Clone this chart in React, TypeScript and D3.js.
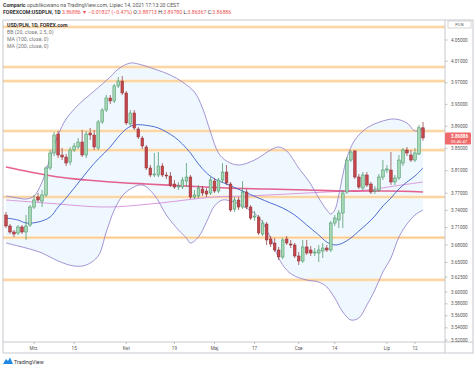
import React, { useEffect, useRef } from 'react';
import * as d3 from 'd3';

// daily candles, USD/PLN, 18 Feb - 14 Jul 2021
const opens = [
  3.7318, 3.7127, 3.7023, 3.7006, 3.711, 3.7023, 3.7144, 3.7458, 3.7634, 3.7563,
  3.7669, 3.8148, 3.8416, 3.8759, 3.838, 3.8344, 3.8254, 3.847, 3.8524, 3.8614,
  3.838, 3.8777, 3.8741, 3.8506, 3.8978, 3.9196, 3.9417, 3.9362, 3.9639, 3.9731,
  3.9509, 3.8941, 3.9142, 3.885, 3.8686, 3.8524, 3.8148, 3.8023, 3.8023, 3.8183,
  3.8023, 3.8005, 3.7863, 3.781, 3.781, 3.7916, 3.7987, 3.7634, 3.7651, 3.7775,
  3.7739, 3.7704, 3.7916, 3.7739, 3.7934, 3.8076, 3.7863, 3.7423, 3.7581, 3.7458,
  3.7722, 3.7458, 3.7283, 3.7283, 3.6988, 3.7161, 3.6902, 3.6833, 3.6713, 3.6593,
  3.6902, 3.6816, 3.6799, 3.661, 3.6524, 3.6765, 3.6713, 3.6661, 3.6661, 3.6696,
  3.6747, 3.6713, 3.7179, 3.7231, 3.7353, 3.7722, 3.829, 3.8452, 3.7987, 3.7792,
  3.8023, 3.7863, 3.7739, 3.7757, 3.7987, 3.8112, 3.8112, 3.7899, 3.797, 3.8236,
  3.847, 3.838, 3.829, 3.8398, 3.88713,
];
const highs = [
  3.7371, 3.7161, 3.7058, 3.7144, 3.7144, 3.7318, 3.7493, 3.7669, 3.7704, 3.7757,
  3.8183, 3.847, 3.8795, 3.8814, 3.8506, 3.8398, 3.8524, 3.8596, 3.8686, 3.8832,
  3.8814, 3.8868, 3.8832, 3.9014, 3.9233, 3.9472, 3.9472, 3.9676, 3.9806, 3.9824,
  3.9546, 3.9196, 3.9196, 3.8886, 3.8723, 3.856, 3.8201, 3.8416, 3.8434, 3.8236,
  3.8076, 3.8076, 3.7934, 3.7899, 3.7987, 3.8236, 3.8023, 3.7757, 3.7845, 3.7828,
  3.7792, 3.7987, 3.797, 3.797, 3.8236, 3.8201, 3.7899, 3.7634, 3.7634, 3.7916,
  3.7775, 3.7493, 3.7388, 3.7318, 3.7231, 3.7196, 3.6954, 3.6919, 3.6765, 3.6919,
  3.6954, 3.6885, 3.6833, 3.6679, 3.6885, 3.6885, 3.6782, 3.6747, 3.6799, 3.6833,
  3.6799, 3.7214, 3.7318, 3.7406, 3.7757, 3.8344, 3.847, 3.847, 3.8041, 3.8076,
  3.8076, 3.7899, 3.7828, 3.8041, 3.829, 3.8201, 3.8434, 3.8023, 3.838, 3.8506,
  3.8524, 3.847, 3.8506, 3.8923, 3.8978,
];
const lows = [
  3.7093, 3.6988, 3.6937, 3.6971, 3.6988, 3.6885, 3.711, 3.7423, 3.7546, 3.7458,
  3.7634, 3.8112, 3.8362, 3.8326, 3.829, 3.8183, 3.8201, 3.8434, 3.8488, 3.8344,
  3.8326, 3.865, 3.847, 3.847, 3.8941, 3.916, 3.9306, 3.9325, 3.9602, 3.9472,
  3.8923, 3.8905, 3.8832, 3.8668, 3.8488, 3.8112, 3.7987, 3.7987, 3.7987, 3.7987,
  3.7952, 3.781, 3.7775, 3.7757, 3.7775, 3.781, 3.7599, 3.7599, 3.7616, 3.7651,
  3.7634, 3.7669, 3.7704, 3.7704, 3.7881, 3.7845, 3.7371, 3.7371, 3.7406, 3.7423,
  3.7423, 3.7231, 3.7214, 3.6971, 3.6954, 3.6799, 3.6765, 3.6679, 3.6541, 3.6558,
  3.6799, 3.6747, 3.6576, 3.6456, 3.649, 3.6627, 3.661, 3.661, 3.6507, 3.6576,
  3.6679, 3.6679, 3.7127, 3.7092, 3.7092, 3.7686, 3.8254, 3.7952, 3.7775, 3.7757,
  3.781, 3.7686, 3.7686, 3.7722, 3.7934, 3.8059, 3.7845, 3.7845, 3.7934, 3.8183,
  3.8362, 3.8254, 3.8254, 3.838, 3.86367,
];
const closes = [
  3.7127, 3.7023, 3.6988, 3.711, 3.7023, 3.7127, 3.7458, 3.7581, 3.7581, 3.7669,
  3.8148, 3.8416, 3.8741, 3.838, 3.8344, 3.8236, 3.847, 3.8542, 3.8614, 3.838,
  3.8759, 3.8741, 3.8524, 3.8978, 3.9196, 3.9417, 3.9362, 3.9639, 3.9731, 3.9509,
  3.8959, 3.9142, 3.8868, 3.8705, 3.8542, 3.8148, 3.8023, 3.8041, 3.8183, 3.8023,
  3.8005, 3.7845, 3.781, 3.7828, 3.7934, 3.7987, 3.7634, 3.7669, 3.7792, 3.7704,
  3.7686, 3.7934, 3.7739, 3.7934, 3.8076, 3.7881, 3.7406, 3.7581, 3.7458, 3.7722,
  3.7458, 3.7266, 3.7301, 3.7006, 3.7179, 3.6885, 3.6816, 3.6713, 3.6593, 3.6885,
  3.6833, 3.6799, 3.661, 3.6524, 3.6765, 3.6661, 3.6661, 3.6679, 3.6713, 3.6747,
  3.6713, 3.7179, 3.7266, 3.7353, 3.7704, 3.829, 3.8434, 3.7987, 3.781, 3.8023,
  3.7845, 3.7722, 3.7757, 3.7987, 3.8112, 3.813, 3.7899, 3.797, 3.829, 3.847,
  3.8416, 3.829, 3.8416, 3.88713, 3.86886,
];

// indicators (candle index, price)
const bbUpperIdx = [0, 3, 5, 7, 9, 11, 13, 15, 18, 22, 26, 28, 31, 33, 37, 41, 44, 47, 49, 51, 53, 55, 58, 62, 66, 68, 70, 73, 76, 78, 80, 81, 82, 83, 84, 85, 87, 90, 94, 97, 100, 102, 104];
const bbUpper = [3.7651, 3.7616, 3.7599, 3.7651, 3.7899, 3.8326, 3.8741, 3.9032, 3.9288, 3.9546, 3.9806, 3.9955, 4.0067, 4.0048, 3.9955, 3.9843, 3.9713, 3.9527, 3.9233, 3.8796, 3.8416, 3.8272, 3.8201, 3.829, 3.847, 3.8524, 3.8452, 3.8148, 3.7863, 3.7616, 3.7406, 3.7336, 3.7406, 3.7669, 3.8023, 3.8326, 3.865, 3.8868, 3.8996, 3.9032, 3.8959, 3.8814, 3.8868];
const bbLowerIdx = [0, 3, 5, 9, 13, 17, 20, 23, 25, 27, 29, 31, 34, 37, 40, 43, 45, 46, 48, 50, 52, 54, 56, 59, 63, 66, 68, 70, 72, 75, 78, 80, 82, 84, 86, 88, 90, 92, 94, 96, 98, 100, 102, 104];
const bbLower = [3.6833, 3.6782, 3.6747, 3.6661, 3.6524, 3.6439, 3.6456, 3.661, 3.7023, 3.7406, 3.7651, 3.7775, 3.7845, 3.7669, 3.7318, 3.7058, 3.6919, 3.6833, 3.6937, 3.7196, 3.7476, 3.7581, 3.7563, 3.7476, 3.7283, 3.6919, 3.6576, 3.6371, 3.6269, 3.6201, 3.6167, 3.6083, 3.5897, 3.5664, 3.5531, 3.5564, 3.578, 3.6032, 3.6337, 3.6576, 3.6937, 3.7161, 3.7318, 3.7406];
const basisIdx = [0, 3, 5, 8, 11, 13, 15, 17, 19, 21, 23, 26, 28, 30, 32, 36, 38, 40, 42, 44, 46, 48, 50, 52, 55, 59, 63, 66, 69, 72, 75, 78, 80, 82, 84, 86, 88, 90, 92, 94, 96, 98, 100, 102, 104];
const basis = [3.7266, 3.7231, 3.7179, 3.7196, 3.7283, 3.7458, 3.7616, 3.7792, 3.797, 3.8148, 3.8308, 3.8524, 3.8705, 3.885, 3.8923, 3.8905, 3.8868, 3.8796, 3.8705, 3.8578, 3.8416, 3.8219, 3.8059, 3.7952, 3.7863, 3.7739, 3.7616, 3.7528, 3.7441, 3.7318, 3.7144, 3.6971, 3.685, 3.6799, 3.6833, 3.6919, 3.704, 3.7161, 3.7301, 3.7476, 3.7616, 3.7775, 3.7899, 3.8005, 3.8148];
const ma100Idx = [0, 6, 13, 20, 26, 35, 45, 55, 65, 75, 85, 95, 104];
const ma100 = [3.8165, 3.8076, 3.7987, 3.7934, 3.7899, 3.7863, 3.7828, 3.7792, 3.7775, 3.7757, 3.7739, 3.7739, 3.7722];
const ma200Idx = [0, 10, 25, 36, 52, 60, 70, 80, 90, 97, 104];
const ma200 = [3.7581, 3.7528, 3.7458, 3.7511, 3.7634, 3.7651, 3.7686, 3.7722, 3.7757, 3.7828, 3.7899];

// horizontal levels drawn on the chart
const levels = [4.0747, 3.9992, 3.9731, 3.8813, 3.8469, 3.7634, 3.6925, 3.6202];

const priceTicks = [4.05, 4.01, 3.97, 3.93, 3.89, 3.85, 3.81, 3.77, 3.74, 3.71, 3.68, 3.65, 3.625, 3.6, 3.58, 3.56, 3.54, 3.52];
const dateLabels = ['Mrz.', '15', 'Kwi', '19', 'Maj', '17', 'Cze', '14', 'Lip', '12'];
const dateLabelIdx = [7, 17, 30, 42, 52, 62, 73, 82, 95, 102];

const W = 474;
const H = 370;
const FONT = 'Roboto, "Liberation Sans", Arial, sans-serif';

export default function App() {
  const svgRef = useRef<SVGSVGElement>(null);

  useEffect(() => {
    if (!svgRef.current) return;
    const svg = d3.select(svgRef.current);
    svg.selectAll('*').remove();

    const pane = { left: 3, right: 445, top: 20, bottom: 342 };

    const x = d3.scaleLinear().domain([0, opens.length - 1]).range([6, 423]);
    const y = d3.scaleLog().domain([3.5167, 4.0881]).range([pane.bottom, pane.top]);

    svg.append('rect').attr('width', W).attr('height', H).attr('fill', '#fff');

    svg.append('clipPath').attr('id', 'pane-clip')
      .append('rect')
      .attr('x', pane.left).attr('y', pane.top)
      .attr('width', pane.right - pane.left).attr('height', pane.bottom - pane.top);

    const g = svg.append('g').attr('clip-path', 'url(#pane-clip)');

    // Bollinger fill
    const pts = (idx: number[], vals: number[]) => idx.map((d, i) => [x(d), y(vals[i])] as [number, number]);
    const curve = d3.line().curve(d3.curveCatmullRom.alpha(0.5));
    const up = pts(bbUpperIdx, bbUpper);
    const lo = pts(bbLowerIdx, bbLower);
    g.append('path')
      .attr('d', curve(up) + 'L' + (curve(lo.slice().reverse()) || '').slice(1) + 'Z')
      .attr('fill', '#2196f3')
      .attr('fill-opacity', 0.07);

    // levels
    levels.forEach(p => {
      g.append('line')
        .attr('x1', pane.left).attr('x2', pane.right)
        .attr('y1', y(p)).attr('y2', y(p))
        .attr('stroke', '#ffe7c7').attr('stroke-width', 3.2);
      g.append('line')
        .attr('x1', pane.left).attr('x2', pane.right)
        .attr('y1', y(p)).attr('y2', y(p))
        .attr('stroke', '#f8c07c').attr('stroke-width', 0.9);
    });

    // indicator lines
    const drawLine = (idx: number[], vals: number[], color: string, w: number, op = 1) => {
      g.append('path')
        .attr('d', curve(pts(idx, vals)))
        .attr('fill', 'none')
        .attr('stroke', color)
        .attr('stroke-width', w)
        .attr('stroke-opacity', op);
    };
    drawLine(ma200Idx, ma200, '#d99adf', 1);
    drawLine(ma100Idx, ma100, '#e2457a', 1.6, 0.85);
    drawLine(bbUpperIdx, bbUpper, '#8d7ac9', 0.8);
    drawLine(bbLowerIdx, bbLower, '#8d7ac9', 0.8);
    drawLine(basisIdx, basis, '#3d5fcc', 0.9);

    // candles
    const bw = 2.7;
    opens.forEach((o, i) => {
      const c = closes[i];
      const isUp = c >= o;
      const stroke = isUp ? '#3f8f5e' : '#8c2f33';
      const fill = isUp ? '#a6d8b6' : '#c5474c';
      const cx = x(i);
      g.append('line')
        .attr('x1', cx).attr('x2', cx)
        .attr('y1', y(highs[i])).attr('y2', y(lows[i]))
        .attr('stroke', stroke).attr('stroke-width', 0.7);
      const top = y(Math.max(o, c));
      const h = Math.max(0.8, y(Math.min(o, c)) - top);
      g.append('rect')
        .attr('x', cx - bw / 2).attr('y', top)
        .attr('width', bw).attr('height', h)
        .attr('fill', fill).attr('stroke', stroke).attr('stroke-width', 0.5);
    });

    // frame
    const frame = svg.append('g').attr('stroke', '#b8bcc4').attr('stroke-width', 0.8).attr('fill', 'none');
    frame.append('rect').attr('x', pane.left).attr('y', pane.top).attr('width', 470).attr('height', 333);
    frame.append('line').attr('x1', pane.left).attr('x2', 473).attr('y1', pane.bottom).attr('y2', pane.bottom);
    frame.append('line').attr('x1', pane.right).attr('x2', pane.right).attr('y1', pane.top).attr('y2', 353);

    // price axis
    const yAxis = svg.append('g');
    priceTicks.forEach(p => {
      yAxis.append('line')
        .attr('x1', pane.right).attr('x2', pane.right + 2.5)
        .attr('y1', y(p)).attr('y2', y(p))
        .attr('stroke', '#999').attr('stroke-width', 0.6);
      yAxis.append('text')
        .attr('x', 451).attr('y', y(p) + 1.6)
        .attr('font-size', 4.6).attr('fill', '#555').attr('font-family', FONT)
        .text(p.toFixed(5));
    });

    svg.append('rect').attr('x', 448).attr('y', 21).attr('width', 23).attr('height', 7)
      .attr('fill', '#fff').attr('stroke', '#bbb').attr('stroke-width', 0.6);
    svg.append('text').attr('x', 459.5).attr('y', 26.2).attr('text-anchor', 'middle')
      .attr('font-size', 4.4).attr('fill', '#555').attr('font-family', FONT).text('PLN');

    // last price label
    const last = closes[closes.length - 1];
    const ly = y(last);
    svg.append('rect').attr('x', pane.right).attr('y', ly - 5.5).attr('width', 26).attr('height', 12)
      .attr('fill', '#ef6a6a').attr('rx', 1);
    svg.append('text').attr('x', 451).attr('y', ly + 0.5)
      .attr('font-size', 4.6).attr('fill', '#fff').attr('font-family', FONT).attr('font-weight', 'bold')
      .text(last.toFixed(5));
    svg.append('text').attr('x', 451).attr('y', ly + 5)
      .attr('font-size', 4.2).attr('fill', '#fff').attr('font-family', FONT)
      .text('05:46:47');

    // date axis
    dateLabels.forEach((t, i) => {
      const lx = x(dateLabelIdx[i]);
      svg.append('line').attr('x1', lx).attr('x2', lx).attr('y1', pane.bottom).attr('y2', pane.bottom + 2)
        .attr('stroke', '#999').attr('stroke-width', 0.6);
      svg.append('text').attr('x', lx).attr('y', 350).attr('text-anchor', 'middle')
        .attr('font-size', 4.6).attr('fill', '#555').attr('font-family', FONT).text(t);
    });

    // header
    const h1 = svg.append('text').attr('x', 3).attr('y', 6.5)
      .attr('font-size', 5.2).attr('font-family', FONT).attr('fill', '#555');
    h1.append('tspan').attr('font-weight', 'bold').attr('fill', '#333').text('Comparic');
    h1.append('tspan').text(' opublikowano na TradingView.com, Lipiec 14, 2021 17:13:20 CEST');

    const red = '#ef5350';
    const h2 = svg.append('text').attr('x', 3).attr('y', 13.5)
      .attr('font-size', 5.2).attr('font-family', FONT).attr('fill', '#333');
    h2.append('tspan').attr('font-weight', 'bold').text('FOREXCOM:USDPLN, 1D ');
    h2.append('tspan').attr('fill', red).text('3.86886 ▼ −0.01827 (−0.47%) ');
    [['O:', '3.88713'], ['H:', '3.89780'], ['L:', '3.86367'], ['C:', '3.86886']].forEach(([k, v]) => {
      h2.append('tspan').text(k);
      h2.append('tspan').attr('fill', red).text(v + ' ');
    });

    // legend
    const legend = [
      { t: 'USD/PLN, 1D, FOREX.com', c: '#333', w: 'bold' },
      { t: 'BB (20, close, 2.5, 0)', c: '#777', w: 'normal' },
      { t: 'MA (100, close, 0)', c: '#777', w: 'normal' },
      { t: 'MA (200, close, 0)', c: '#777', w: 'normal' },
    ];
    legend.forEach((d, i) => {
      svg.append('text').attr('x', 7).attr('y', 27 + i * 7)
        .attr('font-size', 5.2).attr('font-family', FONT).attr('fill', d.c).attr('font-weight', d.w)
        .text(d.t);
    });

    // footer logo
    const logo = svg.append('g').attr('transform', 'translate(3,357)');
    logo.append('path').attr('d', 'M0,7 L3,2 L5,4 L7,0.5 L10,7 Z').attr('fill', '#1e88e5');
    svg.append('text').attr('x', 14).attr('y', 364)
      .attr('font-size', 5.4).attr('font-family', FONT).attr('fill', '#333').text('TradingView');
  }, []);

  return (
    <div style={{ position: 'fixed', left: 0, top: 0 }}>
      <svg ref={svgRef} width={W} height={H} style={{ display: 'block' }} />
    </div>
  );
}
